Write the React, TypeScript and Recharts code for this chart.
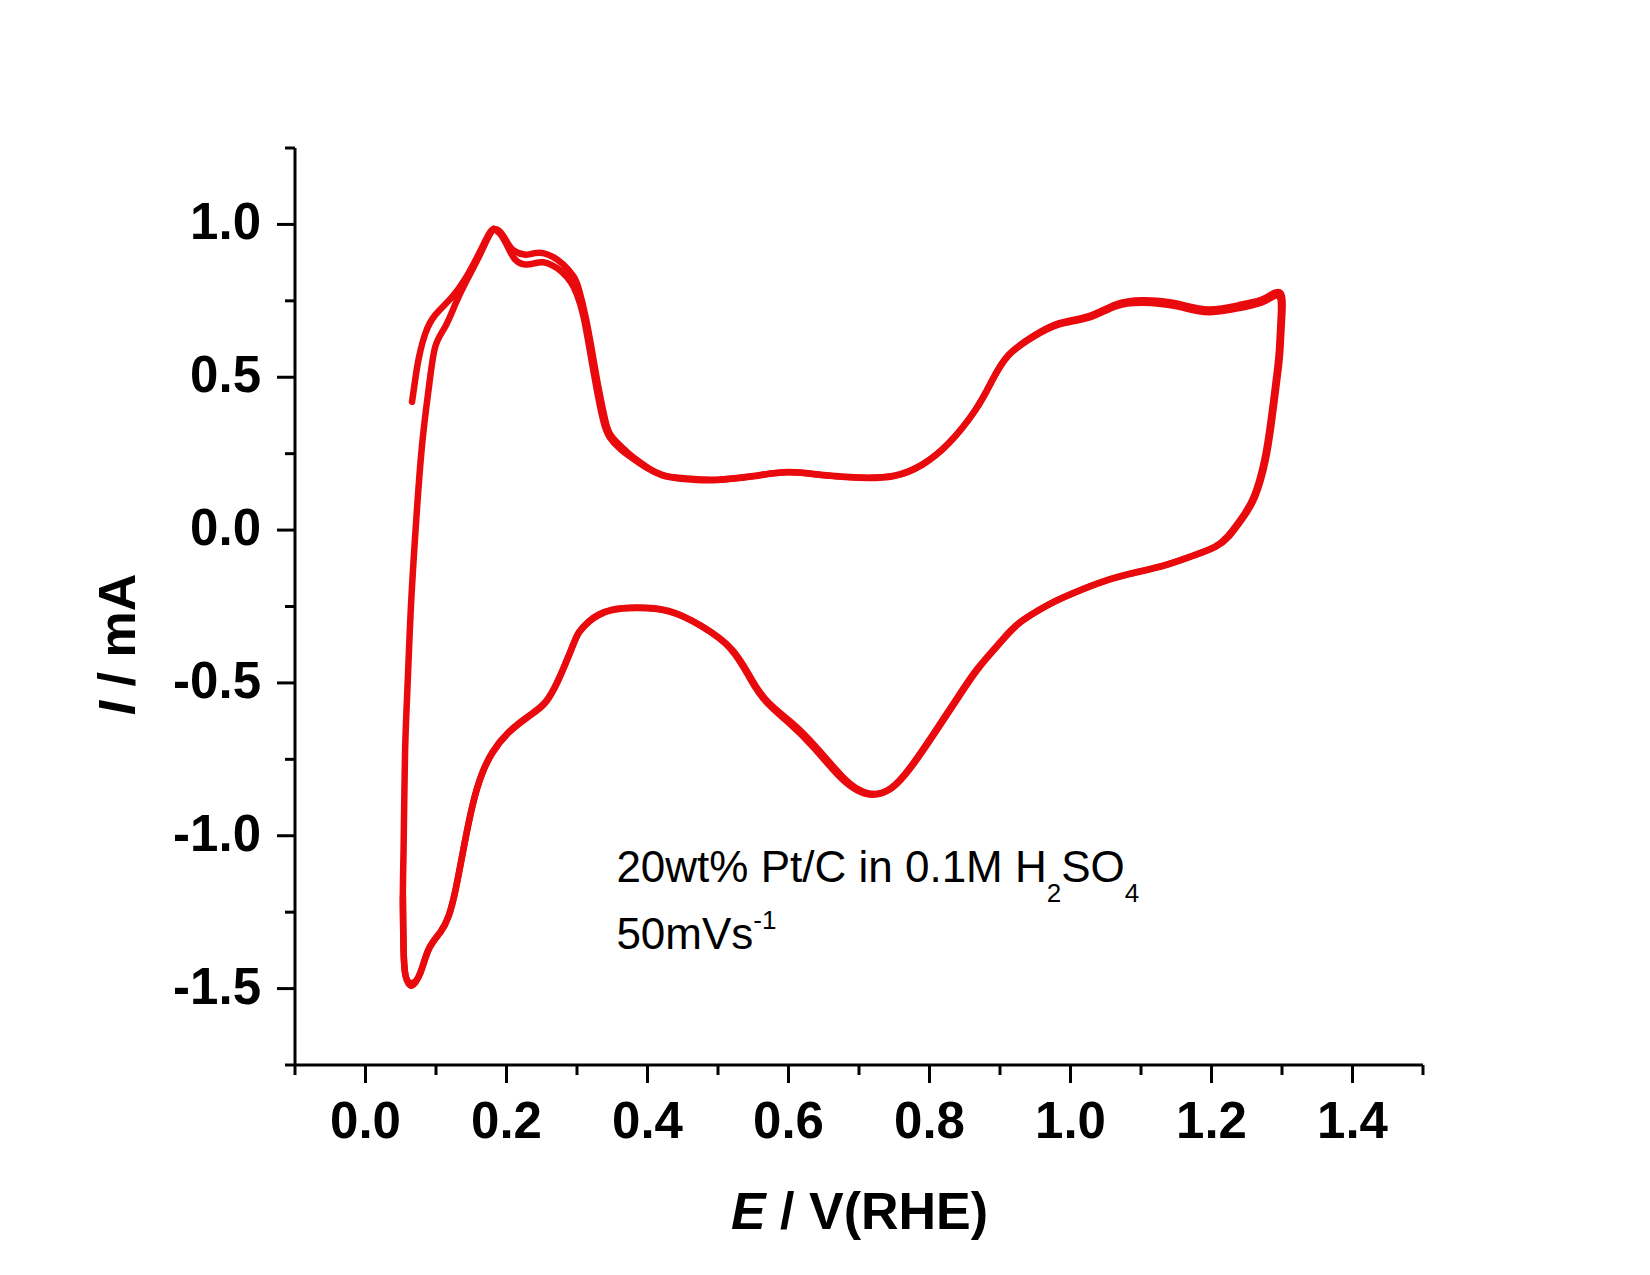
import { ScatterChart, Scatter, XAxis, YAxis } from "recharts";

const FONT = "'Liberation Sans', Arial, sans-serif";
const RED = "#e80a0c";

// axis ticks (minor + major) and the labelled ones
const xTicks = [-0.1, 0, 0.1, 0.2, 0.3, 0.4, 0.5, 0.6, 0.7, 0.8, 0.9, 1.0, 1.1, 1.2, 1.3, 1.4, 1.5];
const xMajor = [0, 0.2, 0.4, 0.6, 0.8, 1.0, 1.2, 1.4];
const xLabels = ["0.0", "0.2", "0.4", "0.6", "0.8", "1.0", "1.2", "1.4"];

const yTicks = [-1.75, -1.5, -1.25, -1.0, -0.75, -0.5, -0.25, 0, 0.25, 0.5, 0.75, 1.0, 1.25];
const yMajor = [-1.5, -1.0, -0.5, 0, 0.5, 1.0];
const yLabels = ["-1.5", "-1.0", "-0.5", "0.0", "0.5", "1.0"];

// first scan, starting at 0.066 V going anodic
const cycle1E = [
  0.066, 0.071, 0.076, 0.085, 0.099, 0.121, 0.142, 0.161, 0.175, 0.182,
  0.19, 0.2, 0.21, 0.227, 0.24, 0.252, 0.265, 0.28, 0.295, 0.303,
  0.312, 0.321, 0.331, 0.34, 0.348, 0.364, 0.378, 0.4, 0.421, 0.444,
  0.47, 0.5, 0.55, 0.6, 0.65, 0.7, 0.75, 0.79, 0.827, 0.865,
  0.889, 0.912, 0.946, 0.983, 1.026, 1.064, 1.102, 1.149, 1.196, 1.243,
  1.275, 1.298, 1.3, 1.298, 1.295, 1.286, 1.277, 1.262, 1.243, 1.225,
  1.206, 1.177, 1.135, 1.087, 1.04, 0.993, 0.969, 0.93, 0.9, 0.87,
  0.842, 0.808, 0.775, 0.747, 0.721, 0.7, 0.676, 0.638, 0.605, 0.572,
  0.548, 0.52, 0.477, 0.43, 0.383, 0.35, 0.331, 0.317, 0.303, 0.293,
  0.274, 0.255, 0.232, 0.203, 0.18, 0.165, 0.152, 0.139, 0.128, 0.118,
  0.106, 0.09, 0.078, 0.066, 0.057, 0.054, 0.053, 0.054, 0.056, 0.059,
  0.064, 0.071, 0.08, 0.09, 0.099, 0.113, 0.128, 0.142, 0.161, 0.175,
  0.182,
];
const cycle1I = [
  0.42, 0.5, 0.567, 0.644, 0.704, 0.758, 0.824, 0.905, 0.968, 0.985,
  0.978, 0.945, 0.915, 0.901, 0.906, 0.906, 0.895, 0.87, 0.83, 0.785,
  0.7, 0.59, 0.46, 0.36, 0.31, 0.27, 0.241, 0.205, 0.181, 0.171,
  0.166, 0.165, 0.177, 0.19, 0.18, 0.172, 0.178, 0.215, 0.284, 0.393,
  0.491, 0.573, 0.633, 0.676, 0.7, 0.738, 0.752, 0.742, 0.722, 0.738,
  0.758, 0.775, 0.687, 0.6, 0.524, 0.36, 0.23, 0.11, 0.034, -0.02,
  -0.054, -0.081, -0.114, -0.141, -0.173, -0.217, -0.244, -0.3, -0.37, -0.451,
  -0.544, -0.663, -0.773, -0.843, -0.863, -0.849, -0.805, -0.707, -0.631, -0.565,
  -0.489, -0.391, -0.315, -0.266, -0.255, -0.262, -0.278, -0.3, -0.335, -0.385,
  -0.489, -0.565, -0.609, -0.663, -0.729, -0.8, -0.9, -1.044, -1.175, -1.263,
  -1.317, -1.371, -1.448, -1.482, -1.459, -1.37, -1.2, -1.045, -0.74, -0.544,
  -0.271, 0.0, 0.273, 0.469, 0.6, 0.665, 0.742, 0.81, 0.895, 0.962,
  0.985,
];

// second scan, from the hydrogen peak on
const cycle2E = [
  0.182, 0.19, 0.2, 0.212, 0.227, 0.24, 0.252, 0.265, 0.278, 0.291,
  0.3, 0.309, 0.318, 0.328, 0.337, 0.346, 0.362, 0.378, 0.4, 0.421,
  0.444, 0.47, 0.5, 0.55, 0.6, 0.65, 0.7, 0.75, 0.79, 0.827,
  0.865, 0.889, 0.912, 0.946, 0.983, 1.026, 1.064, 1.102, 1.149, 1.196,
  1.243, 1.275, 1.296, 1.298, 1.296, 1.293, 1.284, 1.275, 1.26, 1.241,
  1.223, 1.204, 1.175, 1.133, 1.085, 1.038, 0.991, 0.967, 0.928, 0.898,
  0.868, 0.84, 0.806, 0.773, 0.745, 0.72, 0.698, 0.673, 0.635, 0.602,
  0.57, 0.546, 0.518, 0.476, 0.43, 0.383, 0.35, 0.331, 0.317, 0.303,
  0.293, 0.274, 0.255, 0.232, 0.203, 0.18, 0.165, 0.152, 0.139, 0.128,
  0.118, 0.106, 0.09, 0.078, 0.066, 0.057, 0.054, 0.053,
];
const cycle2I = [
  0.985, 0.972, 0.935, 0.886, 0.869, 0.873, 0.876, 0.866, 0.846, 0.812,
  0.77, 0.7, 0.59, 0.46, 0.36, 0.305, 0.264, 0.236, 0.202, 0.179,
  0.169, 0.164, 0.164, 0.176, 0.189, 0.179, 0.171, 0.177, 0.214, 0.283,
  0.392, 0.489, 0.571, 0.63, 0.672, 0.695, 0.732, 0.744, 0.733, 0.713,
  0.728, 0.748, 0.765, 0.687, 0.6, 0.524, 0.36, 0.23, 0.11, 0.034,
  -0.02, -0.056, -0.083, -0.116, -0.143, -0.175, -0.219, -0.246, -0.302, -0.372,
  -0.453, -0.546, -0.665, -0.775, -0.845, -0.866, -0.852, -0.808, -0.71, -0.634,
  -0.566, -0.488, -0.389, -0.313, -0.264, -0.253, -0.26, -0.276, -0.298, -0.333,
  -0.383, -0.487, -0.563, -0.607, -0.661, -0.727, -0.798, -0.898, -1.042, -1.173,
  -1.261, -1.315, -1.369, -1.446, -1.49, -1.46, -1.37, -1.2,
];

const cycle1 = cycle1E.map((E, i) => ({ E, I: cycle1I[i] }));
const cycle2 = cycle2E.map((E, i) => ({ E, I: cycle2I[i] }));

const majorIndex = (v: number, list: number[]) =>
  list.findIndex((m) => Math.abs(m - v) < 1e-6);

function XTick(props: any) {
  const { x, y, payload } = props;
  const idx = majorIndex(payload.value, xMajor);
  const major = idx >= 0;
  return (
    <g>
      <line x1={x} y1={y} x2={x} y2={y + (major ? 18 : 10)} stroke="#000" strokeWidth={3} />
      {major && (
        <text x={x} y={y + 73} textAnchor="middle" fontFamily={FONT} fontWeight="bold" fontSize={51} fill="#000">
          {xLabels[idx]}
        </text>
      )}
    </g>
  );
}

function YTick(props: any) {
  const { x, y, payload } = props;
  const idx = majorIndex(payload.value, yMajor);
  const major = idx >= 0;
  return (
    <g>
      <line x1={x} y1={y} x2={x - (major ? 18 : 10)} y2={y} stroke="#000" strokeWidth={3} />
      {major && (
        <text x={x - 34} y={y + 15} textAnchor="end" fontFamily={FONT} fontWeight="bold" fontSize={51} fill="#000">
          {yLabels[idx]}
        </text>
      )}
    </g>
  );
}

const noDot = () => <g />;
const traceLine = { stroke: RED, strokeWidth: 6.5, strokeLinejoin: "round", strokeLinecap: "round" };

export default function App() {
  return (
    <div style={{ position: "relative", width: 1634, height: 1259, background: "#fff" }}>
      <ScatterChart width={1634} height={1259} margin={{ top: 140, right: 219, bottom: 52, left: 87 }}>
        <XAxis
          type="number"
          dataKey="E"
          domain={[-0.1, 1.5]}
          ticks={xTicks}
          interval={0}
          height={150}
          tickSize={0}
          tickMargin={0}
          tickLine={false}
          axisLine={{ stroke: "#000", strokeWidth: 3 }}
          tick={<XTick />}
        />
        <YAxis
          type="number"
          dataKey="I"
          domain={[-1.75, 1.25]}
          ticks={yTicks}
          interval={0}
          width={200}
          tickSize={0}
          tickMargin={0}
          tickLine={false}
          axisLine={{ stroke: "#000", strokeWidth: 3 }}
          tick={<YTick />}
        />
        <Scatter
          data={cycle1}
          fill={RED}
          line={traceLine}
          lineJointType="natural"
          shape={noDot}
          isAnimationActive={false}
        />
        <Scatter
          data={cycle2}
          fill={RED}
          line={traceLine}
          lineJointType="natural"
          shape={noDot}
          isAnimationActive={false}
        />
      </ScatterChart>
      <svg
        width={1634}
        height={1259}
        style={{ position: "absolute", left: 0, top: 0, pointerEvents: "none" }}
      >
        <text x={851.5} y={1221} textAnchor="middle" fontFamily={FONT} fontWeight="bold" fontSize={52} fill="#000">
          <tspan fontStyle="italic">E</tspan>
          <tspan> / V(RHE)</tspan>
        </text>
        <text
          transform="translate(127,636.5) rotate(-90)"
          textAnchor="middle"
          fontFamily={FONT}
          fontWeight="bold"
          fontSize={52}
          fill="#000"
        >
          <tspan fontStyle="italic">I</tspan>
          <tspan> / mA</tspan>
        </text>
        <text x={608.4} y={874} fontFamily={FONT} fontSize={44} fill="#000">
          <tspan>20wt% Pt/C in 0.1M H</tspan>
          <tspan fontSize={26} dy={20}>2</tspan>
          <tspan dy={-20}>SO</tspan>
          <tspan fontSize={26} dy={20}>4</tspan>
        </text>
        <text x={608.4} y={941} fontFamily={FONT} fontSize={44} fill="#000">
          <tspan>50mVs</tspan>
          <tspan fontSize={26} dy={-20}>-1</tspan>
        </text>
      </svg>
    </div>
  );
}
